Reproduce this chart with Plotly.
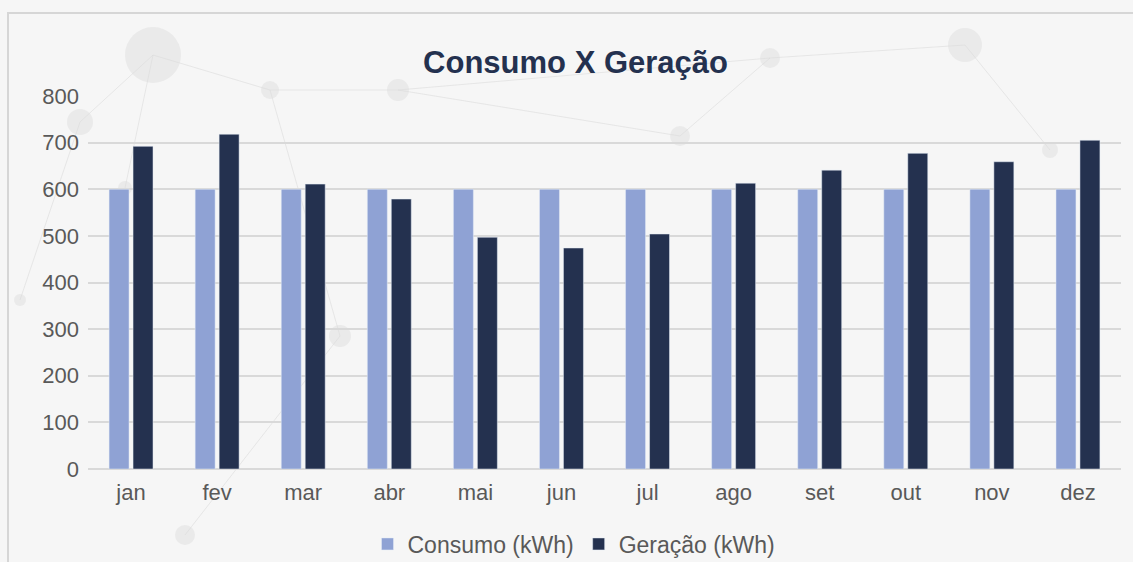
import plotly.graph_objects as go

# dados do gráfico
meses = ["jan", "fev", "mar", "abr", "mai", "jun", "jul", "ago", "set", "out", "nov", "dez"]
consumo = [600, 600, 600, 600, 600, 600, 600, 600, 600, 600, 600, 600]
geracao = [692, 718, 611, 579, 497, 474, 504, 613, 641, 677, 659, 705]
y_ticks = [0, 100, 200, 300, 400, 500, 600, 700, 800]

W, H = 1133, 562
L, R, T, B = 88, 12, 96, 93
pw, ph = W - L - R, H - T - B


def px(x):
    return (x - L) / pw


def py(y):
    return (H - B - y) / ph


fig = go.Figure()
fig.add_trace(go.Bar(x=meses, y=consumo, name="Consumo (kWh)", marker_color="#8FA2D4"))
fig.add_trace(go.Bar(x=meses, y=geracao, name="Geração (kWh)", marker_color="#24314F"))

# fundo decorativo (rede de pontos)
nodes = [(153, 55, 28), (270, 90, 9), (398, 90, 11), (80, 122, 13), (770, 58, 10),
         (680, 136, 10), (965, 45, 17), (340, 336, 11), (185, 535, 10), (125, 188, 7),
         (1050, 150, 8), (20, 300, 6)]
links = [(0, 1), (0, 3), (1, 2), (2, 4), (4, 6), (5, 2), (0, 9), (3, 11), (7, 1), (8, 7),
         (6, 10), (5, 4)]
shapes = []
for a, b in links:
    x0, y0, _ = nodes[a]
    x1, y1, _ = nodes[b]
    shapes.append(dict(type="line", xref="paper", yref="paper", x0=px(x0), y0=py(y0),
                       x1=px(x1), y1=py(y1), line=dict(color="rgba(200,200,200,0.35)", width=1),
                       layer="below"))
for x, y, r in nodes:
    shapes.append(dict(type="circle", xref="paper", yref="paper", x0=px(x - r), x1=px(x + r),
                       y0=py(y + r), y1=py(y - r), fillcolor="rgba(220,220,220,0.45)",
                       line=dict(width=0), layer="below"))
# moldura
shapes.append(dict(type="rect", xref="paper", yref="paper", x0=px(8), y0=py(H + 20),
                   x1=px(W + 20), y1=py(13), line=dict(color="#d6d6d6", width=2), layer="below"))

fig.update_layout(
    width=W, height=H,
    margin=dict(l=L, r=R, t=T, b=B, autoexpand=False),
    paper_bgcolor="#f6f6f6",
    plot_bgcolor="rgba(0,0,0,0)",
    font=dict(family="Liberation Sans, Arial, sans-serif", color="#595959", size=22),
    title=dict(text="<b>Consumo X Geração</b>", x=0.508, xanchor="center", y=1 - 62 / H,
               yanchor="middle", font=dict(size=31, color="#24314F")),
    barmode="group", bargap=0.443, bargroupgap=0.167,
    showlegend=True,
    legend=dict(orientation="h", x=px(574), xanchor="center", y=py(544),
                yanchor="middle", font=dict(size=23, color="#595959"), bgcolor="rgba(0,0,0,0)"),
    shapes=shapes,
)
fig.update_xaxes(showgrid=False, ticks="", showline=False, automargin=False,
                 ticklabelstandoff=8)
fig.update_yaxes(range=[0, 800], tickvals=y_ticks, showgrid=True, gridcolor="#d9d9d9",
                 gridwidth=1.5, zeroline=True, zerolinecolor="#d9d9d9", zerolinewidth=1.5,
                 ticks="", ticklabelstandoff=8, automargin=False)

fig.write_html("out.html", post_script="document.body.style.margin='0';",
               config={"displayModeBar": False})
